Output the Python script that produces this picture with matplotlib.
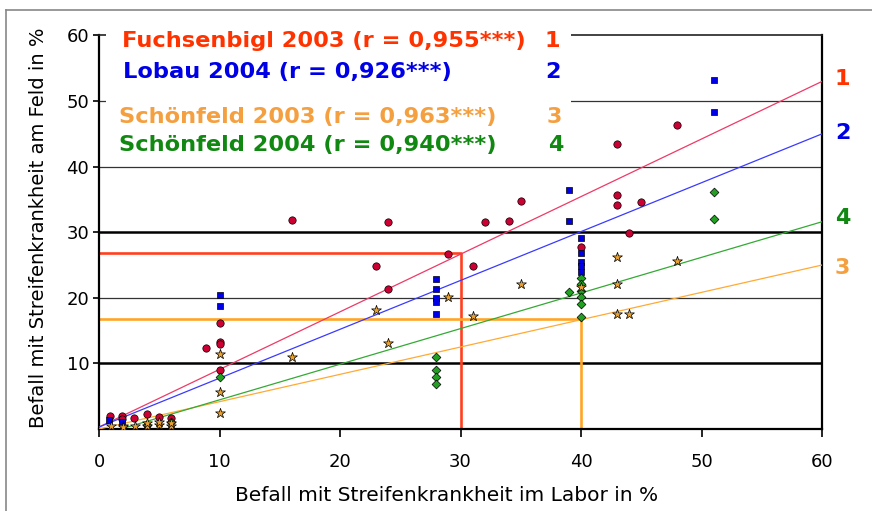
import matplotlib.pyplot as plt
from matplotlib.patches import Rectangle
from matplotlib.lines import Line2D

# Fuchsenbigl 2003 (red circles)
fuchs_x = [0.9, 1.9, 1.9, 2.9, 4.0, 5.0, 6.0, 8.9, 10, 10, 10, 10,
           16, 23, 24, 24, 29, 31, 32, 34, 35, 40, 43, 43, 43, 44, 45, 48]
fuchs_y = [2.0, 2.0, 1.5, 1.7, 2.3, 1.9, 1.7, 12.4, 16.1, 13.3, 12.9, 9.0,
           31.9, 24.9, 31.5, 21.3, 26.7, 24.8, 31.5, 31.7, 34.8, 27.7, 43.5, 35.7, 34.2, 29.9, 34.6, 46.3]

# Lobau 2004 (blue squares)
lobau_x = [0.8, 1.9, 10, 10, 28, 28, 28, 28, 28, 39, 39, 40, 40, 40, 40, 40, 51, 51]
lobau_y = [1.3, 1.0, 20.4, 18.7, 22.8, 21.4, 19.9, 19.4, 17.6, 36.4, 31.7,
           29.1, 26.9, 25.5, 24.8, 24.0, 53.2, 48.4]

# Schönfeld 2003 (orange stars)
sch03_x = [1, 2, 2, 3, 4, 4, 5, 5, 6, 6, 10, 10, 10, 16, 23, 24, 29, 31, 35, 40, 43, 43, 43, 44, 48]
sch03_y = [0.5, 0.5, 0.3, 0.4, 0.5, 0.9, 0.6, 1.0, 0.5, 0.9, 11.5, 5.6, 2.5, 11.0, 18.1,
           13.1, 20.1, 17.3, 22.1, 21.6, 26.2, 22.1, 17.6, 17.6, 25.6]

# Schönfeld 2004 (green diamonds)
sch04_x = [4, 6, 10, 28, 28, 28, 28, 39, 40, 40, 40, 40, 40, 40, 51, 51]
sch04_y = [0.6, 1.0, 8.0, 11.0, 9.0, 8.0, 6.9, 20.9, 23.0, 22.1, 21.0, 20.1, 19.1, 17.1, 36.1, 32.0]

# regression lines (start/end)
fit_x = [0, 60]
fit_fuchs = [0.3, 53.0]
fit_lobau = [0.3, 45.0]
fit_sch03 = [0.0, 25.0]
fit_sch04_x = [2, 60]
fit_sch04 = [0.1, 31.6]

# reading examples
read_red = (30, 26.8)
read_orange = (40, 16.8)

labels = ["Fuchsenbigl 2003 (r = 0,955***)", "Lobau 2004 (r = 0,926***)",
          "Schönfeld 2003 (r = 0,963***)", "Schönfeld 2004 (r = 0,940***)"]
numbers = ["1", "2", "3", "4"]
colors = ["#ff3300", "#0000e6", "#f5a040", "#118811"]

fig = plt.figure(figsize=(8.72, 5.11), dpi=100)
# grey outer frame
fig.add_artist(Line2D([6/872, 6/872], [-0.1, 1 - 10/511], color="#888888", lw=1.2))
fig.add_artist(Line2D([6/872, 1.1], [1 - 10/511, 1 - 10/511], color="#888888", lw=1.2))

ax = fig.add_axes([99/872, 1 - 429/511, 723/872, 393.5/511])
ax.set_xlim(0, 60)
ax.set_ylim(0, 60)

# horizontal grid lines
for yv in [10, 20, 30, 40, 50]:
    thick = yv in (10, 30)
    ax.axhline(yv, color="black" if thick else "#333333", lw=1.8 if thick else 0.9, zorder=1)

# reading lines
ax.plot([0, read_red[0], read_red[0]], [read_red[1], read_red[1], 0], color="#ff4020", lw=1.9, zorder=2)
ax.plot([0, read_orange[0], read_orange[0]], [read_orange[1], read_orange[1], 0], color="#ffa526", lw=1.9, zorder=2)

# fitted lines
ax.plot(fit_x, fit_fuchs, color="#ee3a66", lw=0.9, zorder=3)
ax.plot(fit_x, fit_lobau, color="#3a3aff", lw=0.9, zorder=3)
ax.plot(fit_x, fit_sch03, color="#ffaa33", lw=0.9, zorder=3)
ax.plot(fit_sch04_x, fit_sch04, color="#33aa33", lw=0.9, zorder=3)

# data points
ax.scatter(fuchs_x, fuchs_y, s=28, marker="o", color="#cc0033", edgecolors="black", linewidths=0.5, zorder=4)
ax.scatter(lobau_x, lobau_y, s=24, marker="s", color="#0000e6", edgecolors="black", linewidths=0.5, zorder=4)
ax.scatter(sch04_x, sch04_y, s=20, marker="D", color="#22a022", edgecolors="black", linewidths=0.5, zorder=4)
ax.scatter(sch03_x, sch03_y, s=55, marker="*", color="#e8a030", edgecolors="black", linewidths=0.5, zorder=4)

# spines and ticks
for side in ["left", "bottom", "right"]:
    ax.spines[side].set_linewidth(1.6)
    ax.spines[side].set_color("black")
ax.spines["top"].set_linewidth(1.2)
ax.spines["top"].set_color("#222222")

ax.set_xticks([0, 10, 20, 30, 40, 50, 60])
ax.set_yticks([10, 20, 30, 40, 50, 60])
ax.tick_params(axis="x", length=6, width=1.2, pad=11, labelsize=13)
ax.tick_params(axis="y", length=4, width=1.2, pad=3, labelsize=13)

ax.set_xlabel("Befall mit Streifenkrankheit im Labor in %", fontsize=14.5, va="center")
ax.xaxis.set_label_coords((447 - 99) / 723, (429 - 495) / 393.5)
ax.set_ylabel("Befall mit Streifenkrankheit am Feld in %", fontsize=14, va="center")
ax.yaxis.set_label_coords((38.5 - 99) / 723, (429 - 228) / 393.5)

# white legend box covering grid lines
ax.add_patch(Rectangle((0.55, 40.7), 38.6, 20.5, facecolor="white", edgecolor="none",
                       zorder=5, clip_on=False))

text_y = [59.1, 54.5, 47.6, 43.3]
text_x = [1.9, 2.0, 1.65, 1.65]
num_x = [37.6, 37.7, 37.8, 37.9]
for lab, num, c, tx, ty, nx in zip(labels, numbers, colors, text_x, text_y, num_x):
    ax.text(tx, ty, lab, color=c, fontsize=16.2, fontweight="bold", va="center", ha="left", zorder=6)
    ax.text(nx, ty, num, color=c, fontsize=16, fontweight="bold", va="center", ha="center", zorder=6)

# numbers at the right end of the regression lines
side_y = [53.3, 45.2, 24.6, 32.2]
for num, c, sy in zip(numbers, colors, side_y):
    ax.text(61.7, sy, num, color=c, fontsize=16, fontweight="bold", va="center", ha="center", clip_on=False)

fig.savefig("out.png", dpi=100)
